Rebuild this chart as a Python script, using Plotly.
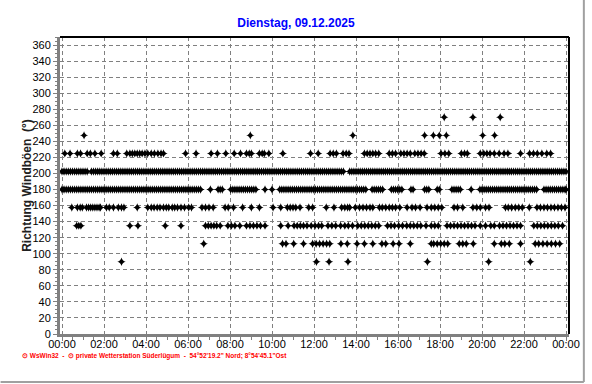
import plotly.graph_objects as go

# Time of each gust in minutes after midnight, grouped by gust direction (degrees)
dir_values = [270.0, 247.5, 225.0, 202.5, 180.0, 157.5, 135.0, 112.5, 90.0]

t_270 = [1092, 1174, 1252]
t_247 = [63, 538, 831, 1036, 1061, 1078, 1098, 1202, 1236]
t_225 = [8, 23, 44, 53, 72, 81, 94, 112, 147, 158, 185, 194, 201, 208, 215, 222, 229,
         237, 245, 255, 264, 274, 283, 290, 353, 383, 426, 444, 468, 492, 510, 527, 535,
         541, 564, 572, 578, 591, 631, 710, 732, 766, 775, 784, 803, 812, 820, 864, 872,
         880, 888, 896, 905, 935, 944, 953, 968, 977, 986, 995, 1008, 1017, 1026, 1035,
         1083, 1094, 1105, 1141, 1150, 1158, 1195, 1205, 1214, 1223, 1235, 1249, 1263,
         1274, 1310, 1336, 1347, 1358, 1371, 1385, 1396]
t_202 = [0, 6, 12, 18, 24, 30, 36, 42, 48, 54,
         60, 66, 72, 84, 90, 96, 102, 108, 114,
         120, 126, 132, 138, 144, 150, 156, 162, 168, 174,
         180, 186, 192, 198, 204, 210, 216, 222, 228, 234,
         240, 246, 252, 258, 264, 270, 276, 282, 288, 294,
         300, 306, 312, 318, 324, 330, 336, 342, 348, 354,
         360, 366, 372, 378, 384, 390, 396, 402, 408, 414,
         420, 426, 432, 438, 444, 450, 456, 462, 468, 474,
         480, 486, 492, 498, 504, 510, 516, 522, 528, 534,
         540, 546, 552, 558, 564, 570, 576, 582, 588, 594,
         600, 606, 612, 618, 624, 630, 636, 642, 648, 654,
         660, 666, 672, 678, 684, 690, 696, 702, 708, 714,
         720, 726, 732, 738, 744, 750, 756, 762, 768, 774,
         780, 786, 792, 798, 804, 822, 828, 834,
         840, 846, 852, 858, 864, 870, 876, 882, 888, 894,
         900, 906, 912, 918, 924, 930, 936, 942, 948, 954,
         960, 966, 972, 978, 984, 990, 996, 1002, 1008, 1014,
         1020, 1026, 1032, 1038, 1044, 1050, 1056, 1062, 1068, 1074,
         1080, 1086, 1092, 1098, 1104, 1110, 1116, 1122, 1128, 1134,
         1140, 1146, 1152, 1158, 1164, 1170, 1176, 1182, 1188, 1194,
         1200, 1206, 1212, 1218, 1224, 1230, 1236, 1242, 1248, 1254,
         1260, 1266, 1272, 1278, 1284, 1290, 1296, 1302, 1308, 1314,
         1320, 1326, 1332, 1338, 1344, 1350, 1356, 1362, 1368, 1374,
         1380, 1386, 1392, 1398, 1404, 1410, 1416, 1422, 1428, 1434, 1440]
t_180 = [0, 6, 12, 18, 24, 30, 36, 42, 48, 54, 60, 66, 72, 78, 84, 90, 96, 102, 108, 114,
         120, 126, 132, 138, 144, 150, 156, 162, 168, 174, 180, 186, 192, 198, 204, 210,
         216, 222, 228, 234, 240, 246, 252, 258, 264, 270, 276, 282, 288, 294, 300, 306,
         312, 318, 324, 330, 336, 342, 348, 354, 360, 366, 372, 378, 384, 390, 396,
         424, 446, 452, 458, 482, 488, 494, 500, 506, 512, 518, 524, 530, 536, 542, 548,
         554, 580, 600, 622, 628, 634, 640, 646, 652, 658, 664, 670, 676, 682, 688, 694,
         700, 706, 712, 718, 724, 730, 736, 742, 748, 754, 760, 766, 772, 778, 784, 790,
         796, 802, 808, 814, 820, 826, 832, 838, 844, 850, 856, 862, 868, 886, 892, 898,
         904, 910, 916, 941, 947, 953, 959, 965, 971, 997, 1003, 1036, 1042, 1048, 1072,
         1078, 1114, 1120, 1126, 1132, 1138, 1169, 1194, 1200, 1206, 1212, 1218, 1224,
         1230, 1236, 1242, 1248, 1254, 1260, 1266, 1272, 1278, 1284, 1290, 1296, 1302,
         1308, 1314, 1320, 1326, 1332, 1338, 1344, 1350, 1356, 1377, 1383, 1389, 1395,
         1401, 1407, 1413, 1419, 1425, 1431, 1437, 1440]
t_157 = [28, 44, 52, 58, 70, 76, 82, 88, 94, 100, 106, 110, 127, 135, 147, 161, 170, 177,
         215, 245, 255, 263, 272, 280, 290, 298, 305, 315, 322, 330, 340, 350, 362, 370,
         400, 410, 420, 432, 466, 475, 490, 516, 541, 564, 603, 625, 644, 652, 660, 668,
         680, 705, 716, 755, 777, 799, 808, 816, 822, 838, 850, 860, 870, 880, 888, 907,
         915, 925, 935, 944, 953, 965, 986, 1000, 1010, 1023, 1043, 1055, 1065, 1075,
         1085, 1120, 1130, 1145, 1174, 1185, 1195, 1210, 1220, 1267, 1275, 1285, 1295,
         1305, 1315, 1335, 1357, 1367, 1377, 1387, 1397, 1407, 1417, 1427, 1437]
t_135 = [42, 48, 54, 194, 217, 295, 340, 410, 418, 426, 434, 442, 452, 474, 484, 494,
         508, 527, 537, 547, 557, 567, 580, 625, 646, 663, 672, 681, 690, 700, 712, 723,
         733, 742, 760, 771, 782, 796, 808, 818, 830, 845, 855, 865, 875, 885, 895, 905,
         930, 940, 950, 962, 973, 985, 995, 1005, 1015, 1025, 1040, 1055, 1065, 1075,
         1100, 1110, 1120, 1130, 1140, 1150, 1160, 1170, 1180, 1195, 1210, 1225, 1235,
         1250, 1260, 1270, 1280, 1290, 1300, 1310, 1348, 1358, 1368, 1378, 1388, 1398,
         1408, 1418, 1430]
t_112 = [405, 630, 640, 662, 690, 716, 726, 736, 746, 756, 765, 797, 815, 843, 864, 888,
         914, 925, 946, 963, 995, 1055, 1062, 1072, 1082, 1092, 1102, 1135, 1145, 1155,
         1175, 1235, 1255, 1265, 1278, 1310, 1352, 1362, 1374, 1386, 1398, 1410, 1422]
t_90 = [170, 727, 763, 817, 1044, 1219, 1338]

series_times = [t_270, t_247, t_225, t_202, t_180, t_157, t_135, t_112, t_90]

tick_minutes = [0, 120, 240, 360, 480, 600, 720, 840, 960, 1080, 1200, 1320, 1440]
tick_labels = ["00:00", "02:00", "04:00", "06:00", "08:00", "10:00", "12:00",
               "14:00", "16:00", "18:00", "20:00", "22:00", "00:00"]

title_text = "Dienstag, 09.12.2025"
y_title = "Richtung Windböen  (°)"
footer = "\u2299 WsWin32  -  \u2299 private Wetterstation Süderlügum  -  54°52'19.2\" Nord; 8°54'45.1\"Ost"

xs, ys = [], []
for d, ts in zip(dir_values, series_times):
    xs.extend(ts)
    ys.extend([d] * len(ts))

fig = go.Figure()
fig.add_trace(go.Scatter(
    x=xs, y=ys, mode="markers",
    marker=dict(symbol="star-diamond", size=6, color="black", line=dict(width=0)),
    showlegend=False, hoverinfo="skip"))

FONT = "Liberation Sans, Arial, sans-serif"
grid = "#808080"

fig.update_layout(
    width=592, height=384,
    margin=dict(l=60, r=18, t=37, b=50),
    paper_bgcolor="white", plot_bgcolor="white",
    font=dict(family=FONT, size=11, color="black"),
    title=dict(text="<b>" + title_text + "</b>", x=0.5, xanchor="center",
               y=1 - 23 / 384, yanchor="middle",
               font=dict(family=FONT, size=12, color="#0000FF")),
    xaxis=dict(
        range=[-5.7, 1448.5], tickmode="array", tickvals=tick_minutes, ticktext=tick_labels,
        showgrid=True, gridcolor=grid, griddash="4px,3px", gridwidth=1,
        showline=True, linecolor=grid, linewidth=3, zeroline=False,
        ticks="outside", ticklen=4, tickcolor=grid, tickwidth=1,
        ticklabelstandoff=-6,
        tickfont=dict(family=FONT, size=11, color="black"),
        minor=dict(dtick=30, tick0=0, ticks="outside", ticklen=3, tickcolor=grid, showgrid=False),
    ),
    yaxis=dict(
        range=[0, 370], tick0=0, dtick=20,
        showgrid=True, gridcolor=grid, griddash="4px,3px", gridwidth=1,
        showline=True, linecolor=grid, linewidth=3, zeroline=False,
        ticks="outside", ticklen=4, tickcolor=grid, tickwidth=1,
        tickfont=dict(family=FONT, size=11, color="black"),
        minor=dict(dtick=5, tick0=0, ticks="outside", ticklen=2, tickcolor=grid, showgrid=False),
    ),
    shapes=[
        dict(type="line", xref="paper", yref="paper", x0=0, x1=1, y0=1, y1=1,
             line=dict(color="black", width=2)),
        dict(type="line", xref="paper", yref="paper", x0=1, x1=1, y0=0, y1=1,
             line=dict(color="black", width=2)),
        dict(type="line", xref="paper", yref="paper", x0=(589 - 60) / 514, x1=(589 - 60) / 514,
             y0=(334 - 0) / 297, y1=(334 - 382) / 297, line=dict(color="#a0a0a0", width=2)),
        dict(type="line", xref="paper", yref="paper", x0=(0 - 60) / 514, x1=(589 - 60) / 514,
             y0=(334 - 382) / 297, y1=(334 - 382) / 297, line=dict(color="#a0a0a0", width=2)),
    ],
    annotations=[
        dict(text="<b>" + y_title + "</b>", xref="paper", yref="paper",
             x=(26 - 60) / 514, y=0.5, xanchor="center", yanchor="middle",
             textangle=-90, showarrow=False,
             font=dict(family=FONT, size=12, color="#202020")),
        dict(text="<b>" + footer + "</b>", xref="paper", yref="paper",
             x=(20 - 60) / 514, y=(334 - 356) / 297, xanchor="left", yanchor="middle",
             showarrow=False, font=dict(family=FONT, size=6.5, color="#FF0000")),
    ],
)

fig.write_html("out.html")
